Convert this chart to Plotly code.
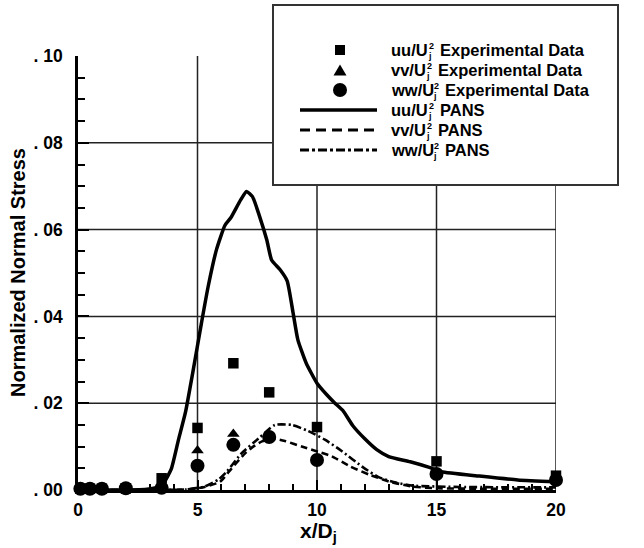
import plotly.graph_objects as go

W, H = 644, 548

# Experimental stations (x/Dj) and measured normal stresses
x_exp = [0.1, 0.5, 1.0, 2.0, 3.5, 5.0, 6.5, 8.0, 10.0, 15.0, 20.0]
uu_exp = [0.0003, 0.0003, 0.0003, 0.0004, 0.0027, 0.0143, 0.0292, 0.0225, 0.0145, 0.0066, 0.0033]
vv_exp = [0.0002, 0.0002, 0.0002, 0.0003, 0.0008, 0.0091, 0.0129, 0.0126, 0.0072, 0.0037, 0.0025]
ww_exp = [0.0003, 0.0003, 0.0003, 0.0004, 0.0005, 0.0056, 0.0104, 0.0122, 0.0069, 0.0037, 0.0023]

# PANS centreline profiles
x_uu = [0, 1, 2, 2.8, 3.3, 3.6, 3.9, 4.2, 4.5, 4.8, 5.15, 5.45, 5.8, 6.15, 6.4, 6.8, 7.05,
        7.3, 7.6, 7.9, 8.1, 8.45, 8.75, 9.0, 9.2, 9.55, 10.0, 10.4, 10.75, 11.1, 11.5, 12.0,
        12.5, 13.0, 13.9, 14.7, 15.2, 16.8, 18.4, 20]
uu_pans = [0, 0, 0, 0.0001, 0.0006, 0.0018, 0.0048, 0.0115, 0.018, 0.027, 0.038, 0.047,
           0.0555, 0.061, 0.0628, 0.0668, 0.0688, 0.0676, 0.063, 0.0576, 0.0530, 0.0508,
           0.0482, 0.0408, 0.0346, 0.0292, 0.0246, 0.022, 0.0200, 0.0182, 0.0148, 0.0118,
           0.0093, 0.0077, 0.0065, 0.0052, 0.0042, 0.0032, 0.0023, 0.0019]

x_vv = [0, 3, 4.5, 5.3, 5.94, 6.43, 7.0, 7.33, 7.7, 8.1, 8.66, 9.36, 10.05, 10.6, 11.4,
        12.2, 13.05, 14.0, 15, 17, 20]
vv_pans = [0, 0, 0.0001, 0.0007, 0.0019, 0.005, 0.0085, 0.0100, 0.0112, 0.0119, 0.0113,
           0.0100, 0.0088, 0.0078, 0.0054, 0.0035, 0.0019, 0.0008, 0.0004, 0.0003, 0.0003]

x_ww = [0, 3, 4.5, 5.3, 5.9, 6.22, 6.85, 7.54, 8.24, 8.94, 9.63, 10.33, 11.03, 11.93,
        12.6, 13.3, 14, 16, 20]
ww_pans = [0, 0, 0.0001, 0.0008, 0.0025, 0.0042, 0.0085, 0.0118, 0.0150, 0.0150, 0.0136,
           0.0116, 0.0090, 0.0052, 0.0029, 0.0017, 0.0010, 0.0007, 0.0006]

x_ticks = [0, 5, 10, 15, 20]
y_ticks = [0.0, 0.02, 0.04, 0.06, 0.08, 0.10]
y_ticktext = [". 00", ". 02", ". 04", ". 06", ". 08", ". 10"]

FONT = "Liberation Sans, Arial, sans-serif"
BLACK = "black"


def fx(p):
    return p / W


def fy(p):
    return 1 - p / H


fig = go.Figure()

fig.add_trace(go.Scatter(x=x_uu, y=uu_pans, mode="lines",
                         line=dict(color=BLACK, width=3.5, shape="spline", smoothing=0.5)))
fig.add_trace(go.Scatter(x=x_vv, y=vv_pans, mode="lines",
                         line=dict(color=BLACK, width=2.6, dash="7px,4px",
                                   shape="spline", smoothing=0.5)))
fig.add_trace(go.Scatter(x=x_ww, y=ww_pans, mode="lines",
                         line=dict(color=BLACK, width=2.6, dash="8px,3px,2px,3px",
                                   shape="spline", smoothing=0.5)))

fig.add_trace(go.Scatter(x=x_exp, y=uu_exp, mode="markers", cliponaxis=False,
                         marker=dict(symbol="square", size=10.5, color=BLACK)))
fig.add_trace(go.Scatter(x=x_exp, y=vv_exp, mode="markers", cliponaxis=False,
                         marker=dict(symbol="triangle-up", size=11, color=BLACK)))
fig.add_trace(go.Scatter(x=x_exp, y=ww_exp, mode="markers", cliponaxis=False,
                         marker=dict(symbol="circle", size=14, color=BLACK)))

shapes = []
# grid lines
for xv in [5, 10, 15, 20]:
    shapes.append(dict(type="line", xref="x", yref="y", x0=xv, x1=xv, y0=0, y1=0.10,
                       line=dict(color="#222", width=1.5), layer="below"))
for yv in [0.02, 0.04, 0.06, 0.08]:
    shapes.append(dict(type="line", xref="x", yref="y", x0=0, x1=20, y0=yv, y1=yv,
                       line=dict(color="#222", width=1.5), layer="below"))

# legend frame
shapes.append(dict(type="rect", xref="paper", yref="paper",
                   x0=fx(273), x1=fx(618), y0=fy(185), y1=fy(5),
                   line=dict(color="#333", width=2), fillcolor="white", layer="above"))

row_y = [50, 70, 90, 110, 130, 150]
mx = 340
# legend symbols
shapes.append(dict(type="rect", xref="paper", yref="paper",
                   x0=fx(mx - 5), x1=fx(mx + 5), y0=fy(row_y[0] + 5), y1=fy(row_y[0] - 5),
                   line=dict(width=0), fillcolor=BLACK, layer="above"))
ty = row_y[1]
shapes.append(dict(type="path", xref="paper", yref="paper",
                   path=f"M {fx(mx - 6.5)},{fy(ty + 5.5)} L {fx(mx + 6.5)},{fy(ty + 5.5)} "
                        f"L {fx(mx)},{fy(ty - 5.5)} Z",
                   line=dict(width=0), fillcolor=BLACK, layer="above"))
shapes.append(dict(type="circle", xref="paper", yref="paper",
                   x0=fx(mx - 7), x1=fx(mx + 7), y0=fy(row_y[2] + 7), y1=fy(row_y[2] - 7),
                   line=dict(width=0), fillcolor=BLACK, layer="above"))
for r, dash, wd in [(3, "solid", 3.5), (4, "10px,6px", 3), (5, "9px,3px,3px,3px", 3)]:
    shapes.append(dict(type="line", xref="paper", yref="paper",
                       x0=fx(300), x1=fx(377), y0=fy(row_y[r]), y1=fy(row_y[r]),
                       line=dict(color=BLACK, width=wd, dash=dash), layer="above"))

# legend labels: stress name with stacked Uj^2, then description
char_w = {"u": 0.611, "v": 0.556, "w": 0.778, "/": 0.278, "U": 0.722}
lfs = 16.5
sfs = 9
legend_rows = [("uu/U", "Experimental Data"), ("vv/U", "Experimental Data"),
               ("ww/U", "Experimental Data"), ("uu/U", "PANS"), ("vv/U", "PANS"),
               ("ww/U", "PANS")]
annotations = []
tx = 390
for (pre, suf), yy in zip(legend_rows, row_y):
    end = tx + sum(char_w[c] for c in pre) * lfs
    annotations.append(dict(text=pre, x=fx(tx), y=fy(yy), xref="paper", yref="paper",
                            xanchor="left", yanchor="middle", showarrow=False, borderpad=0,
                            font=dict(family=FONT, size=lfs, color=BLACK, weight="bold")))
    annotations.append(dict(text="2", x=fx(end + 1), y=fy(yy - 4), xref="paper", yref="paper",
                            xanchor="left", yanchor="middle", showarrow=False, borderpad=0,
                            font=dict(family=FONT, size=sfs, color=BLACK, weight="bold")))
    annotations.append(dict(text="j", x=fx(end), y=fy(yy + 6), xref="paper", yref="paper",
                            xanchor="left", yanchor="middle", showarrow=False, borderpad=0,
                            font=dict(family=FONT, size=sfs, color=BLACK, weight="bold")))
    annotations.append(dict(text=suf, x=fx(end + 12), y=fy(yy), xref="paper", yref="paper",
                            xanchor="left", yanchor="middle", showarrow=False, borderpad=0,
                            font=dict(family=FONT, size=lfs, color=BLACK, weight="bold")))

# axis titles
annotations.append(dict(text="Normalized Normal Stress", x=fx(18), y=fy(273),
                        xref="paper", yref="paper", textangle=-90, showarrow=False,
                        xanchor="center", yanchor="middle",
                        font=dict(family=FONT, size=20, color=BLACK, weight="bold")))
annotations.append(dict(text="x/D<sub>j</sub>", x=fx(318), y=fy(518),
                        xref="paper", yref="paper", showarrow=False, borderpad=0,
                        xanchor="center", yanchor="top",
                        font=dict(family=FONT, size=21, color=BLACK, weight="bold")))

tickfont = dict(family=FONT, size=17.5, color=BLACK, weight="bold")
fig.update_layout(
    width=W, height=H,
    margin=dict(l=0, r=0, t=0, b=0),
    paper_bgcolor="white", plot_bgcolor="white",
    showlegend=False,
    xaxis=dict(domain=[fx(78), fx(556)], range=[0, 20], tickvals=x_ticks,
               showline=True, linecolor=BLACK, linewidth=2.5, mirror=False,
               ticks="inside", ticklen=10, tickwidth=1.5, tickcolor=BLACK,
               minor=dict(ticks="inside", ticklen=6, tickwidth=1.5, dtick=1,
                          tickcolor=BLACK, showgrid=False),
               showgrid=False, zeroline=False, tickfont=tickfont,
               ticklabelstandoff=2, automargin=False),
    yaxis=dict(domain=[fy(490), fy(56)], range=[0, 0.1], tickvals=y_ticks,
               ticktext=y_ticktext,
               showline=True, linecolor=BLACK, linewidth=2.5, mirror=False,
               ticks="inside", ticklen=11, tickwidth=1.5, tickcolor=BLACK,
               minor=dict(ticks="inside", ticklen=7, tickwidth=1.5, dtick=0.005,
                          tickcolor=BLACK, showgrid=False),
               showgrid=False, zeroline=False, tickfont=tickfont,
               ticklabelstandoff=9, automargin=False),
    shapes=shapes,
    annotations=annotations,
)

fig.write_html("out.html")
